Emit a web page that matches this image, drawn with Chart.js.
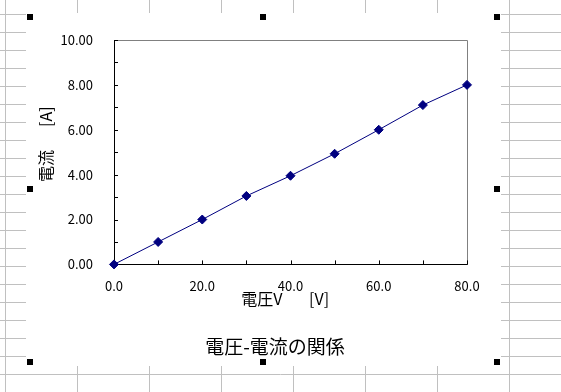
<!DOCTYPE html>
<html>
<head>
<meta charset="utf-8">
<script src="https://cdn.jsdelivr.net/npm/chart.js@4/dist/chart.umd.min.js"></script>
<style>
html,body{margin:0;padding:0;background:#fff;}
canvas{display:block;}
</style>
</head>
<body>
<canvas id="c" width="561" height="392"></canvas>
<script>
// ---- data ----
const voltageValues = [0, 10, 20, 30, 40, 50, 60, 70, 80];
const currentValues = [0, 1.0, 2.0, 3.05, 3.95, 4.93, 6.0, 7.1, 8.0];
const xTickLabels = ['0.0', '20.0', '40.0', '60.0', '80.0'];
const yTickLabels = ['0.00', '2.00', '4.00', '6.00', '8.00', '10.00'];
const chartTitle = '電圧-電流の関係';
const xTitle = '電圧V　   [V]   ';
const yTitle = '　電流　  [A]';

const points = voltageValues.map((v, i) => ({x: v, y: currentValues[i]}));

Chart.defaults.font.family = "'Noto Sans CJK JP', 'Noto Sans', sans-serif";
Chart.defaults.color = '#000';

// spreadsheet-like background, chart area, selection handles
const sheetPlugin = {
  id: 'sheet',
  beforeDraw(chart) {
    const ctx = chart.ctx;
    const W = chart.width, H = chart.height;
    ctx.save();
    ctx.fillStyle = '#fff';
    ctx.fillRect(0, 0, W, H);
    ctx.strokeStyle = '#c0c0c0';
    ctx.lineWidth = 1;
    ctx.beginPath();
    for (let x = 5; x < W; x += 72) { ctx.moveTo(x + 0.5, 0); ctx.lineTo(x + 0.5, H); }
    for (let y = 14; y < H; y += 18) { ctx.moveTo(0, y + 0.5); ctx.lineTo(W, y + 0.5); }
    ctx.stroke();
    // chart object area
    ctx.fillStyle = '#fff';
    ctx.fillRect(26, 13, 475, 353);
    // handles
    ctx.fillStyle = '#000';
    const hx = [30, 263, 497], hy = [17, 189, 362];
    hx.forEach((x, i) => hy.forEach((y, j) => {
      if (i === 1 && j === 1) return;
      ctx.fillRect(x - 3, y - 3, 6, 6);
    }));
    ctx.restore();
  },
  beforeDatasetsDraw(chart) {
    const ctx = chart.ctx;
    const a = chart.chartArea;
    const xs = chart.scales.x, ys = chart.scales.y;
    ctx.save();
    // gray top/right frame of plot area
    ctx.strokeStyle = '#808080';
    ctx.lineWidth = 1;
    ctx.beginPath();
    ctx.moveTo(Math.round(a.left) + 0.5, Math.round(a.top) + 0.5);
    ctx.lineTo(Math.round(a.right) + 0.5, Math.round(a.top) + 0.5);
    ctx.lineTo(Math.round(a.right) + 0.5, Math.round(a.bottom) + 0.5);
    ctx.stroke();
    // inside tick marks
    ctx.strokeStyle = '#000';
    ctx.beginPath();
    ys.ticks.forEach(t => {
      const py = Math.round(ys.getPixelForValue(t.value)) + 0.5;
      ctx.moveTo(a.left, py); ctx.lineTo(a.left + 4, py);
    });
    xs.ticks.forEach(t => {
      const px = Math.round(xs.getPixelForValue(t.value)) + 0.5;
      ctx.moveTo(px, a.bottom); ctx.lineTo(px, a.bottom - 4);
    });
    ctx.stroke();
    ctx.restore();
  }
};

new Chart(document.getElementById('c'), {
  type: 'scatter',
  data: {
    datasets: [{
      data: points,
      showLine: true,
      borderColor: '#000080',
      backgroundColor: '#000080',
      borderWidth: 1,
      pointStyle: 'rectRot',
      pointRadius: 4.5,
      pointHoverRadius: 4.5,
      pointBorderWidth: 1,
      clip: false
    }]
  },
  options: {
    responsive: false,
    animation: false,
    events: [],
    layout: { padding: { left: 20, right: 31, top: 40, bottom: 34.2 } },
    plugins: {
      legend: { display: false },
      tooltip: { enabled: false },
      title: {
        display: true,
        position: 'bottom',
        text: chartTitle,
        color: '#000',
        font: { size: 19, weight: 'normal' },
        padding: { top: 26.6, bottom: 0 }
      }
    },
    scales: {
      x: {
        type: 'linear',
        min: 0, max: 80,
        grid: { display: false },
        border: { display: true, color: '#000', width: 1 },
        ticks: {
          stepSize: 10, autoSkip: false, maxRotation: 0, padding: 6,
          font: { size: 13 },
          callback: v => (v % 20 === 0 ? xTickLabels[v / 20] : '')
        },
        title: { display: true, text: xTitle, font: { size: 16 }, padding: { top: 0, bottom: 0 } },
        afterFit(s) { s.height = 44; }
      },
      y: {
        type: 'linear',
        min: 0, max: 10,
        grid: { display: false },
        border: { display: true, color: '#000', width: 1 },
        ticks: {
          stepSize: 1, autoSkip: false, padding: 13,
          font: { size: 13 },
          callback: v => (v % 2 === 0 ? yTickLabels[v / 2] : '')
        },
        title: { display: true, text: yTitle, font: { size: 16 }, padding: { top: 16, bottom: 0 } },
        afterFit(s) { s.width = 94; }
      },
      y2: {
        type: 'linear',
        position: 'right',
        min: 0, max: 1,
        grid: { display: false },
        border: { display: false },
        ticks: { display: false },
        afterFit(s) { s.width = 63; }
      }
    }
  },
  plugins: [sheetPlugin]
});
</script>
</body>
</html>
